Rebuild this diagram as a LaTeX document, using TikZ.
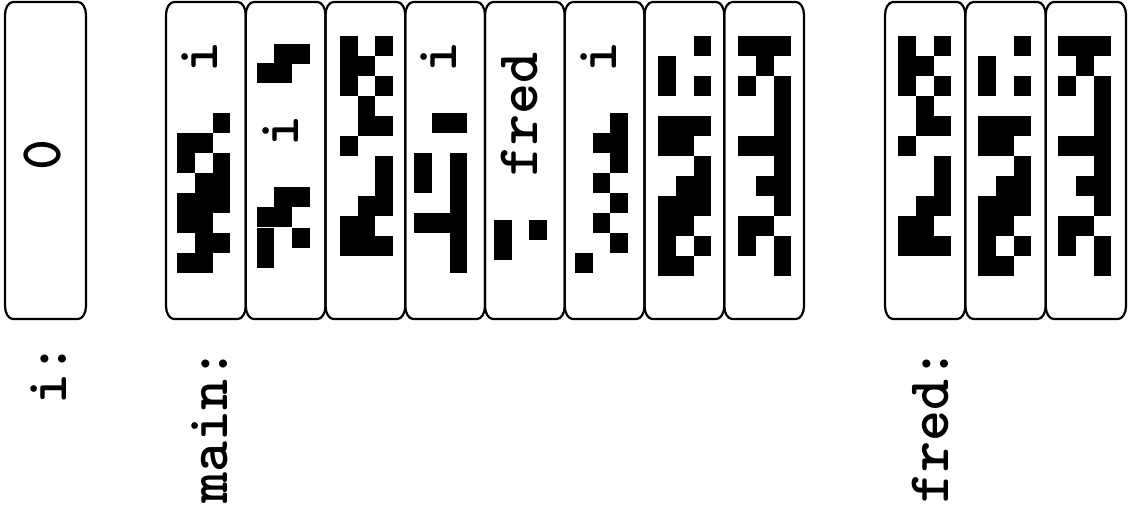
\documentclass[tikz,border=0pt]{standalone}
\usepackage{fontspec}
\newfontfamily\codefont{lmmonolt10-bold.otf}
\tikzset{
  cellline/.style={line width=1.1pt},
  word/.style={font=\fontsize{29.5}{32}\selectfont\codefont, rotate=90, inner sep=0pt},
}
% one memory cell, left and right edge
\newcommand{\memcell}[2]{\draw[cellline] (#1,15) -- (#1,306)
  .. controls (#1,313.2) and (#1+3.6,319) .. (#1+8,319) -- (#2-8,319)
  .. controls (#2-3.6,319) and (#2,313.2) .. (#2,306) -- (#2,15)
  .. controls (#2,7.8) and (#2-3.6,2) .. (#2-8,2) -- (#1+8,2)
  .. controls (#1+3.6,2) and (#1,7.8) .. cycle;}
% a row of bits: top, first column, last column
\newcommand{\bits}[3]{\fill (#2*17.6,#1) rectangle (#3*17.6+17.6,#1+20);}
% the three words of fred
\newcommand{\codeA}{%
  \bits{36}{0}{0} \bits{36}{2}{2} \bits{56}{0}{1} \bits{76}{0}{0} \bits{76}{2}{2}
  \bits{96}{1}{1} \bits{116}{1}{2} \bits{136}{0}{0} \bits{156}{2}{2} \bits{176}{2}{2}
  \bits{196}{1}{2} \bits{216}{0}{1} \bits{236}{0}{2}}
\newcommand{\codeB}{%
  \bits{36}{2}{2} \bits{56}{0}{0} \bits{76}{0}{0} \bits{76}{2}{2} \bits{116}{0}{2}
  \bits{136}{0}{1} \bits{156}{2}{2} \bits{176}{1}{2} \bits{196}{0}{2} \bits{216}{0}{1}
  \bits{236}{0}{0} \bits{236}{2}{2} \bits{256}{0}{1}}
\newcommand{\codeC}{%
  \bits{36}{0}{2} \bits{56}{1}{1} \bits{76}{0}{0} \bits{76}{2}{2} \bits{96}{2}{2}
  \bits{116}{2}{2} \bits{136}{0}{2} \bits{156}{2}{2} \bits{176}{1}{2} \bits{196}{2}{2}
  \bits{216}{0}{1} \bits{236}{0}{0} \bits{236}{2}{2} \bits{256}{2}{2}}

\begin{document}
\begin{tikzpicture}[x=0.5pt, y=-0.5pt, line join=round, line cap=round]
	\useasboundingbox (0,0) rectangle (1128,509);
	% i
	\memcell{5}{86}
	\node[word] (zero) at (42,155) {0};
	\node[word] (labi) at (48.3,374) {i:};
	% main
	\memcell{166}{245.75}
	\memcell{245.75}{325.5}
	\memcell{325.5}{405.25}
	\memcell{405.25}{485}
	\memcell{485}{564.75}
	\memcell{564.75}{644.5}
	\memcell{644.5}{724.25}
	\memcell{724.25}{804}
	\node[word] (labmain) at (210,426) {main:};
	\begin{scope}[shift={(177.3,0)}]
		\bits{113.3}{2}{2} \bits{133.3}{0}{1} \bits{153.3}{0}{0} \bits{153.3}{2}{2}
		\bits{173.3}{1}{2} \bits{193.3}{0}{2} \bits{213.3}{0}{1} \bits{233.3}{1}{2}
		\bits{253.3}{0}{1}
	\end{scope}
	\node[word] (ia) at (200,56.7) {i};
	\begin{scope}[shift={(256.7,0)}]
		\bits{44}{1}{2} \bits{63.3}{0}{1} \bits{187.3}{1}{2} \bits{206.7}{0}{1}
		\bits{227.7}{0}{0} \bits{247.7}{0}{0} \bits{227.7}{2}{2}
	\end{scope}
	\node[word] (ib) at (280.5,131.5) {i};
	\begin{scope}[shift={(340,0)}]
		\codeA
	\end{scope}
	\begin{scope}[shift={(414.3,0)}]
		\bits{113.3}{1}{2} \bits{153.3}{0}{0} \bits{153.3}{2}{2} \bits{173.3}{0}{0}
		\bits{173.3}{2}{2} \bits{193.3}{2}{2} \bits{213.3}{0}{2} \bits{233.3}{2}{2}
		\bits{253.3}{2}{2}
	\end{scope}
	\node[word] (ic) at (438.3,56.7) {i};
	\node[word] (fredname) at (519,114.2) {fred};
	\begin{scope}[shift={(494,0)}]
		\bits{220}{0}{0} \bits{220}{2}{2} \bits{240}{0}{0}
	\end{scope}
	\begin{scope}[shift={(575,0)}]
		\bits{113.3}{2}{2} \bits{133.3}{1}{2} \bits{153.3}{2}{2} \bits{173.3}{1}{1}
		\bits{193.3}{2}{2} \bits{213.3}{1}{1} \bits{233.3}{2}{2} \bits{253.3}{0}{0}
	\end{scope}
	\node[word] (id) at (598.3,56.7) {i};
	\begin{scope}[shift={(658.3,0)}]
		\codeB
	\end{scope}
	\begin{scope}[shift={(738.3,0)}]
		\codeC
	\end{scope}
	% fred
	\memcell{885}{965.3}
	\memcell{965.3}{1045.7}
	\memcell{1045.7}{1126}
	\node[word] (labfred) at (930,426) {fred:};
	\begin{scope}[shift={(898.3,0)}]
		\codeA
	\end{scope}
	\begin{scope}[shift={(978.3,0)}]
		\codeB
	\end{scope}
	\begin{scope}[shift={(1058.3,0)}]
		\codeC
	\end{scope}
\end{tikzpicture}
\end{document}
